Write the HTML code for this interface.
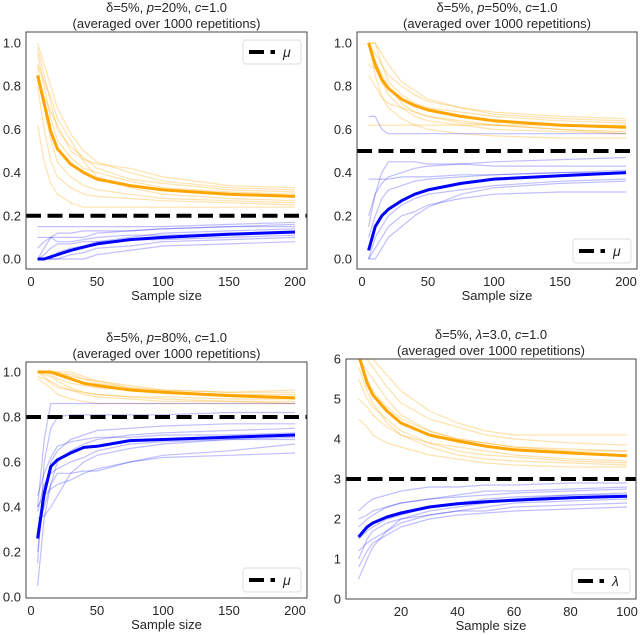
<!DOCTYPE html>
<html><head><meta charset="utf-8"><style>
body{margin:0;background:#fff}
svg{display:block;font-family:"Liberation Sans",sans-serif}
</style></head><body>
<svg id="c" width="640" height="635" viewBox="0 0 640 635"></svg>
<script>
const X1=[5,10,15,20,30,40,50,75,100,150,200];
const X2=[5,8,10,15,20,30,40,50,60,80,100];
// Panel 1 p=20%
const p1OrangeMean=[0.85,0.72,0.59,0.51,0.44,0.40,0.37,0.34,0.32,0.30,0.29];
const p1BlueMean=[0.0,0.0,0.01,0.02,0.04,0.055,0.07,0.09,0.10,0.115,0.125];
const p1OrangeRuns=[[1.0,0.9,0.8,0.7,0.58,0.5,0.45,0.4,0.36,0.33,0.32],[0.95,0.8,0.65,0.55,0.47,0.42,0.4,0.36,0.33,0.31,0.30],[0.9,0.7,0.55,0.45,0.38,0.34,0.32,0.3,0.28,0.27,0.26],[0.62,0.45,0.35,0.3,0.26,0.24,0.24,0.24,0.24,0.24,0.24],[0.85,0.75,0.68,0.62,0.5,0.46,0.44,0.42,0.38,0.34,0.33],[0.98,0.85,0.72,0.6,0.52,0.47,0.42,0.37,0.35,0.32,0.31],[0.8,0.6,0.45,0.38,0.33,0.3,0.29,0.28,0.27,0.26,0.25],[0.9,0.82,0.75,0.65,0.55,0.45,0.38,0.33,0.3,0.28,0.27]];
const p1BlueRuns=[[0.15,0.15,0.15,0.15,0.15,0.15,0.15,0.15,0.15,0.16,0.17],[0.0,0.05,0.1,0.1,0.1,0.1,0.12,0.13,0.14,0.15,0.15],[0.0,0.0,0.0,0.03,0.05,0.06,0.08,0.1,0.12,0.13,0.14],[0.0,0.0,0.0,0.0,0.02,0.03,0.05,0.06,0.08,0.09,0.1],[0.1,0.1,0.1,0.08,0.08,0.09,0.1,0.11,0.11,0.12,0.12],[0.0,0.02,0.05,0.07,0.07,0.08,0.08,0.09,0.09,0.1,0.11],[0.0,0.0,0.0,0.0,0.0,0.0,0.02,0.04,0.06,0.07,0.08],[0.05,0.08,0.1,0.12,0.12,0.13,0.13,0.13,0.14,0.15,0.16]];
// Panel 2 p=50%
const p2OrangeMean=[1.0,0.9,0.83,0.79,0.74,0.71,0.69,0.66,0.64,0.62,0.61];
const p2BlueMean=[0.04,0.15,0.2,0.23,0.27,0.3,0.32,0.35,0.37,0.385,0.40];
const p2OrangeRuns=[[1.0,1.0,0.95,0.9,0.82,0.78,0.74,0.7,0.67,0.65,0.64],[1.0,0.92,0.85,0.8,0.72,0.68,0.66,0.64,0.62,0.6,0.59],[0.85,0.8,0.75,0.72,0.7,0.68,0.66,0.63,0.62,0.6,0.58],[1.0,0.95,0.9,0.85,0.8,0.76,0.73,0.7,0.68,0.66,0.65],[0.62,0.62,0.62,0.62,0.62,0.62,0.62,0.62,0.62,0.62,0.62],[1.0,0.85,0.75,0.7,0.65,0.62,0.6,0.58,0.57,0.56,0.56],[0.9,0.88,0.82,0.76,0.7,0.66,0.64,0.62,0.6,0.59,0.58],[1.0,1.0,0.9,0.82,0.76,0.72,0.7,0.68,0.66,0.64,0.63]];
const p2BlueRuns=[[0.37,0.37,0.37,0.37,0.38,0.38,0.38,0.39,0.39,0.4,0.41],[0.15,0.3,0.4,0.45,0.45,0.45,0.44,0.44,0.43,0.43,0.43],[0.0,0.1,0.15,0.2,0.25,0.28,0.3,0.32,0.34,0.36,0.37],[0.0,0.0,0.05,0.1,0.15,0.2,0.24,0.3,0.33,0.35,0.36],[0.66,0.66,0.6,0.58,0.58,0.58,0.58,0.58,0.58,0.58,0.58],[0.1,0.2,0.28,0.32,0.34,0.36,0.37,0.38,0.39,0.4,0.4],[0.0,0.05,0.1,0.15,0.2,0.22,0.25,0.28,0.3,0.31,0.31],[0.2,0.3,0.35,0.38,0.4,0.42,0.43,0.44,0.45,0.46,0.47]];
// Panel 3 p=80%
const p3OrangeMean=[1.0,1.0,1.0,0.99,0.97,0.95,0.94,0.92,0.91,0.895,0.885];
const p3BlueMean=[0.26,0.46,0.58,0.61,0.64,0.665,0.67,0.695,0.70,0.71,0.72];
const p3OrangeRuns=[[1.0,1.0,1.0,1.0,0.98,0.97,0.96,0.94,0.92,0.91,0.91],[1.0,0.98,0.95,0.93,0.92,0.91,0.9,0.89,0.88,0.87,0.87],[0.98,0.97,0.96,0.94,0.92,0.9,0.89,0.88,0.87,0.87,0.86],[1.0,1.0,1.0,1.0,1.0,0.98,0.96,0.93,0.91,0.9,0.9],[0.97,0.95,0.93,0.9,0.88,0.87,0.86,0.86,0.86,0.86,0.86],[1.0,1.0,0.99,0.97,0.95,0.94,0.93,0.92,0.91,0.9,0.89],[1.0,0.99,0.98,0.96,0.93,0.91,0.9,0.89,0.89,0.88,0.88],[1.0,1.0,1.0,0.99,0.99,0.97,0.95,0.93,0.92,0.91,0.92]];
const p3BlueRuns=[[0.15,0.6,0.75,0.8,0.81,0.81,0.81,0.81,0.81,0.82,0.82],[0.05,0.35,0.5,0.6,0.65,0.68,0.7,0.72,0.73,0.74,0.75],[0.35,0.36,0.4,0.45,0.55,0.6,0.63,0.66,0.68,0.7,0.71],[0.38,0.5,0.55,0.57,0.6,0.62,0.65,0.68,0.69,0.7,0.7],[0.3,0.4,0.5,0.55,0.55,0.56,0.56,0.6,0.63,0.65,0.68],[0.2,0.45,0.6,0.65,0.7,0.72,0.74,0.75,0.76,0.77,0.77],[0.4,0.45,0.48,0.5,0.52,0.55,0.57,0.6,0.62,0.63,0.64],[0.45,0.55,0.62,0.67,0.69,0.7,0.71,0.71,0.72,0.72,0.73],[0.4,0.7,0.86,0.86,0.86,0.86,0.86,0.86,0.86,0.86,0.86]];
// Panel 4 lambda=3
const p4OrangeMean=[6.1,5.4,5.1,4.7,4.4,4.1,3.95,3.82,3.73,3.65,3.58];
const p4BlueMean=[1.55,1.8,1.9,2.05,2.15,2.3,2.38,2.43,2.47,2.53,2.57];
const p4OrangeRuns=[[6.0,6.0,5.8,5.3,4.9,4.5,4.3,4.1,4.0,3.9,3.85],[5.5,5.0,4.8,4.5,4.2,3.9,3.8,3.7,3.6,3.5,3.45],[6.0,5.7,5.5,5.0,4.6,4.2,4.0,3.9,3.8,3.7,3.7],[4.5,4.3,4.1,3.9,3.8,3.6,3.5,3.4,3.35,3.3,3.3],[6.0,6.0,6.0,5.6,5.2,4.7,4.4,4.2,4.1,4.1,4.1],[5.0,4.8,4.6,4.3,4.1,3.9,3.7,3.6,3.55,3.45,3.4],[6.0,5.5,5.2,4.8,4.5,4.2,4.0,3.9,3.8,3.75,3.7],[5.8,5.2,4.9,4.4,4.1,3.8,3.6,3.5,3.45,3.4,3.35]];
const p4BlueRuns=[[0.5,1.0,1.3,1.7,2.0,2.2,2.3,2.4,2.5,2.6,2.65],[1.8,2.0,2.1,2.3,2.4,2.5,2.55,2.6,2.65,2.7,2.75],[1.2,1.4,1.5,1.7,1.9,2.1,2.2,2.3,2.4,2.45,2.5],[2.2,2.4,2.5,2.6,2.7,2.8,2.8,2.85,2.85,2.9,2.9],[0.8,1.2,1.4,1.6,1.8,2.0,2.1,2.15,2.2,2.25,2.3],[1.5,1.7,1.8,2.0,2.1,2.3,2.4,2.5,2.55,2.6,2.6],[1.0,1.5,1.7,1.9,2.0,2.1,2.2,2.2,2.3,2.35,2.4],[2.0,2.1,2.2,2.3,2.4,2.5,2.6,2.7,2.7,2.75,2.8]];
const yTicks1=["0.0","0.2","0.4","0.6","0.8","1.0"];
const xTicks1=[0,50,100,150,200];
const yTicks4=["0","1","2","3","4","5","6"];
const xTicks4=[20,40,60,80,100];
const refs=[0.2,0.5,0.8,3];

const NS="http://www.w3.org/2000/svg";
const svg=document.getElementById('c');
function mk(tag,attrs,parent){const e=document.createElementNS(NS,tag);for(const k in attrs)e.setAttribute(k,attrs[k]);(parent||svg).appendChild(e);return e;}

const panels=[
 {id:'p20',title:['δ=5%, ','p','=20%, ','c','=1.0'],box:[26,32,307,269],xr:[0,200,31,295],yr:[0,1,259,43],X:X1,om:p1OrangeMean,bm:p1BlueMean,or:p1OrangeRuns,br:p1BlueRuns,yt:yTicks1,xt:xTicks1,ref:refs[0],leg:'top',sym:'μ'},
 {id:'p50',title:['δ=5%, ','p','=50%, ','c','=1.0'],box:[357,32,637,269],xr:[0,200,362,626],yr:[0,1,259,43],X:X1,om:p2OrangeMean,bm:p2BlueMean,or:p2OrangeRuns,br:p2BlueRuns,yt:yTicks1,xt:xTicks1,ref:refs[1],leg:'bottom',sym:'μ'},
 {id:'p80',title:['δ=5%, ','p','=80%, ','c','=1.0'],box:[26,362,307,598],xr:[0,200,31,295],yr:[0,1,597,372],X:X1,om:p3OrangeMean,bm:p3BlueMean,or:p3OrangeRuns,br:p3BlueRuns,yt:yTicks1,xt:xTicks1,ref:refs[2],leg:'bottom',sym:'μ'},
 {id:'lambda3',title:['δ=5%, ','λ','=3.0, ','c','=1.0'],box:[346,359,636,599],xr:[20,100,401,627],yr:[0,6,599,359],X:X2,om:p4OrangeMean,bm:p4BlueMean,or:p4OrangeRuns,br:p4BlueRuns,yt:yTicks4,xt:xTicks4,ref:refs[3],leg:'bottom',sym:'λ'}
];

panels.forEach((P,pi)=>{
 const [bx0,by0,bx1,by1]=P.box;
 const g=mk('g',{});
 
 
 const sx=v=>P.xr[2]+(v-P.xr[0])*(P.xr[3]-P.xr[2])/(P.xr[1]-P.xr[0]);
 const sy=v=>P.yr[2]+(v-P.yr[0])*(P.yr[3]-P.yr[2])/(P.yr[1]-P.yr[0]);
 const cid='clip'+pi;
 const cp=mk('clipPath',{id:cid},g);mk('rect',{x:bx0,y:by0,width:bx1-bx0,height:by1-by0},cp);
 const plot=mk('g',{'clip-path':'url(#'+cid+')'},g);
 const line=(arr,color,w,op,name)=>{
  const pts=arr.map((v,i)=>sx(P.X[i]).toFixed(1)+','+sy(v).toFixed(1)).join(' ');
  const l=mk('polyline',{points:pts,fill:'none',stroke:color,'stroke-width':w,'stroke-opacity':op,'stroke-linejoin':'round'},plot);
  
  
 };
 P.or.forEach((r,i)=>line(r,'#FFA500',1.2,0.32,'upper-bound-run'));
 P.br.forEach((r,i)=>line(r,'#0000FF',1.2,0.25,'lower-bound-run'));
 line(P.om,'#FFA500',3,1,'upper-bound-mean');
 line(P.bm,'#0000FF',3,1,'lower-bound-mean');
 const rl=mk('line',{x1:bx0,x2:bx1,y1:sy(P.ref),y2:sy(P.ref),stroke:'#000','stroke-width':4,'stroke-dasharray':'15 6.5'},plot);
 
 
 const fr=mk('rect',{x:bx0,y:by0,width:bx1-bx0,height:by1-by0,fill:'none',stroke:'#444','stroke-width':1},g);
 
 
 P.yt.forEach(t=>{
  const tx=mk('text',{x:bx0-5,y:sy(parseFloat(t))+4.5,'text-anchor':'end','font-size':13,fill:'#262626'},g);
  tx.textContent=t;
  
  
 });
 P.xt.forEach(t=>{
  const tx=mk('text',{x:sx(t),y:by1+17,'text-anchor':'middle','font-size':13,fill:'#262626'},g);
  tx.textContent=t;
  
  
 });
 const cx=(bx0+bx1)/2;
 const xl=mk('text',{x:cx,y:by1+31,'text-anchor':'middle','font-size':13,fill:'#262626'},g);
 xl.textContent='Sample size';
 
 
 const t1=mk('text',{x:cx,y:by0-20,'text-anchor':'middle','font-size':13,fill:'#262626'},g);
 
 
 P.title.forEach((s,i)=>{const ts=mk('tspan',i%2?{'font-style':'italic'}:{},t1);ts.textContent=s;});
 const t2=mk('text',{x:cx,y:by0-4,'text-anchor':'middle','font-size':13,fill:'#262626'},g);
 t2.textContent='(averaged over 1000 repetitions)';
 
 
 const lw=58,lh=24,lx=bx1-lw-6,ly=P.leg==='top'?by0+8:by1-lh-6;
 const lg=mk('g',{},g);
 
 
 mk('rect',{x:lx,y:ly,width:lw,height:lh,rx:3,fill:'#fff',stroke:'#ddd','stroke-width':1},lg);
 mk('line',{x1:lx+6,x2:lx+32,y1:ly+lh/2,y2:ly+lh/2,stroke:'#000','stroke-width':4,'stroke-dasharray':'15 6.5'},lg);
 const ls=mk('text',{x:lx+40,y:ly+lh/2+5,'font-size':14,'font-style':'italic',fill:'#262626'},lg);
 ls.textContent=P.sym;
 
 
});
</script>
</body></html>
